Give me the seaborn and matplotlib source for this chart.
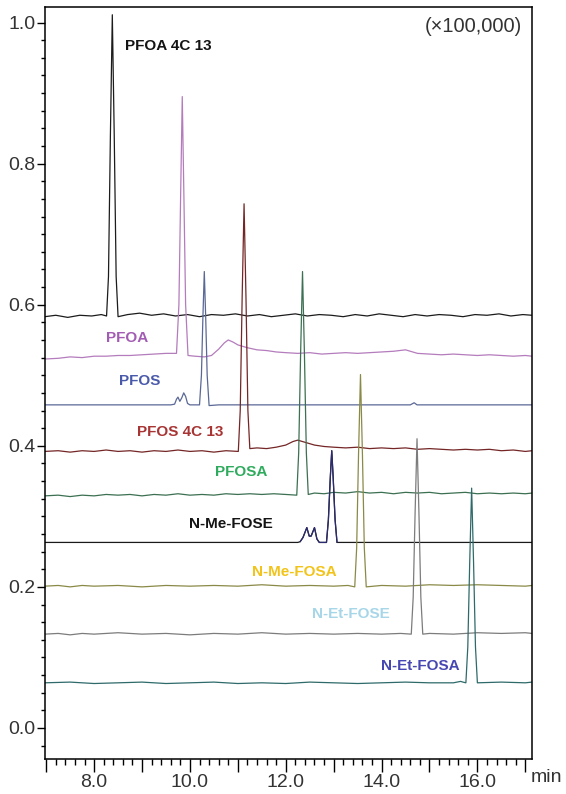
import pandas as pd
import matplotlib
matplotlib.use("Agg")
import matplotlib.pyplot as plt
from matplotlib.ticker import MultipleLocator, FuncFormatter
import seaborn as sns

# chromatogram traces, (retention time [min], intensity [x100,000])
pfoa_4c13 = [(6.97, 0.583), (7.20, 0.585), (7.45, 0.582), (7.70, 0.585), (7.95, 0.584), (8.15, 0.586),
             (8.26, 0.584), (8.30, 0.640), (8.34, 0.840), (8.38, 1.011), (8.42, 0.840), (8.46, 0.640),
             (8.50, 0.583), (8.70, 0.586), (8.95, 0.588), (9.20, 0.585), (9.45, 0.587), (9.70, 0.584),
             (9.95, 0.586), (10.20, 0.583), (10.45, 0.586), (10.70, 0.585), (10.95, 0.587), (11.20, 0.584),
             (11.45, 0.586), (11.70, 0.583), (11.95, 0.585), (12.20, 0.587), (12.45, 0.584), (12.70, 0.586),
             (12.95, 0.585), (13.20, 0.583), (13.45, 0.586), (13.70, 0.584), (13.95, 0.587), (14.20, 0.585),
             (14.45, 0.583), (14.70, 0.586), (14.95, 0.584), (15.20, 0.586), (15.45, 0.585), (15.70, 0.583),
             (15.95, 0.586), (16.20, 0.585), (16.45, 0.587), (16.70, 0.584), (16.95, 0.586), (17.14, 0.585)]
pfoa = [(6.97, 0.523), (7.25, 0.524), (7.50, 0.526), (7.75, 0.525), (8.00, 0.527), (8.25, 0.527),
        (8.50, 0.528), (8.75, 0.528), (9.00, 0.529), (9.25, 0.530), (9.50, 0.531), (9.72, 0.531),
        (9.77, 0.600), (9.805, 0.750), (9.84, 0.895), (9.875, 0.750), (9.91, 0.600), (9.96, 0.528),
        (10.10, 0.527), (10.30, 0.526), (10.45, 0.528), (10.60, 0.537), (10.72, 0.546), (10.80, 0.550),
        (10.90, 0.547), (11.00, 0.543), (11.20, 0.539), (11.40, 0.536), (11.60, 0.535), (11.80, 0.533),
        (12.00, 0.532), (12.25, 0.531), (12.50, 0.532), (12.75, 0.530), (13.00, 0.531), (13.25, 0.532),
        (13.50, 0.531), (13.75, 0.532), (14.00, 0.533), (14.25, 0.534), (14.50, 0.536), (14.75, 0.531),
        (15.00, 0.530), (15.25, 0.529), (15.50, 0.530), (15.75, 0.529), (16.00, 0.528), (16.25, 0.529),
        (16.50, 0.528), (16.75, 0.527), (17.00, 0.528), (17.14, 0.527)]
pfos = [(6.97, 0.458), (8.00, 0.458), (9.00, 0.458), (9.60, 0.458), (9.68, 0.459), (9.72, 0.466),
        (9.75, 0.469), (9.79, 0.463), (9.83, 0.468), (9.87, 0.475), (9.91, 0.470), (9.95, 0.460),
        (10.00, 0.458), (10.20, 0.458), (10.24, 0.500), (10.27, 0.580), (10.30, 0.647), (10.33, 0.580),
        (10.36, 0.500), (10.40, 0.457), (10.60, 0.458), (11.50, 0.458), (12.50, 0.458), (13.50, 0.458),
        (14.60, 0.458), (14.68, 0.461), (14.74, 0.458), (15.50, 0.458), (16.50, 0.458), (17.14, 0.458)]
pfos_4c13 = [(6.97, 0.392), (7.25, 0.393), (7.50, 0.391), (7.75, 0.393), (8.00, 0.392), (8.25, 0.394),
             (8.50, 0.392), (8.75, 0.393), (9.00, 0.391), (9.25, 0.393), (9.50, 0.392), (9.75, 0.394),
             (10.00, 0.392), (10.25, 0.393), (10.50, 0.391), (10.75, 0.393), (11.01, 0.392), (11.05, 0.450),
             (11.09, 0.610), (11.13, 0.743), (11.17, 0.610), (11.21, 0.450), (11.25, 0.396), (11.40, 0.397),
             (11.60, 0.396), (11.80, 0.398), (12.00, 0.401), (12.15, 0.406), (12.25, 0.408), (12.40, 0.405),
             (12.60, 0.401), (12.80, 0.399), (13.00, 0.398), (13.25, 0.397), (13.50, 0.398), (13.75, 0.396),
             (14.00, 0.397), (14.25, 0.396), (14.50, 0.397), (14.75, 0.395), (15.00, 0.396), (15.25, 0.395),
             (15.50, 0.394), (15.75, 0.395), (16.00, 0.394), (16.25, 0.395), (16.50, 0.393), (16.75, 0.394),
             (17.00, 0.392), (17.14, 0.393)]
pfosa = [(6.97, 0.329), (7.25, 0.330), (7.50, 0.328), (7.75, 0.330), (8.00, 0.329), (8.25, 0.331),
         (8.50, 0.330), (8.75, 0.331), (9.00, 0.329), (9.25, 0.331), (9.50, 0.330), (9.75, 0.332),
         (10.00, 0.330), (10.25, 0.331), (10.50, 0.330), (10.75, 0.332), (11.00, 0.331), (11.25, 0.332),
         (11.50, 0.331), (11.75, 0.332), (12.00, 0.331), (12.23, 0.330), (12.27, 0.390), (12.31, 0.530),
         (12.35, 0.647), (12.39, 0.530), (12.43, 0.390), (12.47, 0.331), (12.60, 0.333), (12.80, 0.332),
         (13.00, 0.334), (13.25, 0.333), (13.50, 0.335), (13.75, 0.333), (14.00, 0.334), (14.25, 0.332),
         (14.50, 0.334), (14.75, 0.333), (15.00, 0.334), (15.25, 0.332), (15.50, 0.333), (15.75, 0.334),
         (16.00, 0.332), (16.25, 0.333), (16.50, 0.332), (16.75, 0.333), (17.00, 0.332), (17.14, 0.333)]
n_me_fose = [(6.97, 0.263), (8.00, 0.263), (9.00, 0.263), (10.00, 0.263), (11.00, 0.263), (12.00, 0.263),
             (12.25, 0.263), (12.30, 0.264), (12.36, 0.270), (12.44, 0.284), (12.49, 0.272), (12.53, 0.272),
             (12.60, 0.284), (12.65, 0.268), (12.70, 0.263), (12.85, 0.263), (12.89, 0.295), (12.93, 0.355),
             (12.96, 0.393), (12.99, 0.355), (13.03, 0.295), (13.07, 0.263), (14.00, 0.263), (15.00, 0.263),
             (16.00, 0.263), (17.14, 0.263)]
n_me_fosa = [(6.97, 0.201), (7.25, 0.202), (7.50, 0.200), (7.75, 0.202), (8.00, 0.201), (8.50, 0.202),
             (9.00, 0.200), (9.50, 0.202), (10.00, 0.201), (10.50, 0.202), (11.00, 0.201), (11.50, 0.203),
             (12.00, 0.201), (12.50, 0.202), (13.00, 0.201), (13.30, 0.202), (13.44, 0.200), (13.48, 0.255),
             (13.52, 0.390), (13.56, 0.501), (13.60, 0.390), (13.64, 0.255), (13.68, 0.200), (14.00, 0.202),
             (14.50, 0.201), (15.00, 0.203), (15.50, 0.202), (16.00, 0.203), (16.50, 0.202), (17.00, 0.201),
             (17.14, 0.202)]
n_et_fose = [(6.97, 0.133), (7.25, 0.134), (7.50, 0.132), (7.75, 0.134), (8.00, 0.133), (8.50, 0.135),
             (9.00, 0.133), (9.50, 0.134), (10.00, 0.132), (10.50, 0.134), (11.00, 0.133), (11.50, 0.135),
             (12.00, 0.133), (12.50, 0.134), (13.00, 0.133), (13.50, 0.134), (14.00, 0.133), (14.40, 0.134),
             (14.62, 0.133), (14.66, 0.185), (14.70, 0.305), (14.74, 0.410), (14.78, 0.305), (14.82, 0.185),
             (14.86, 0.133), (15.00, 0.134), (15.50, 0.133), (16.00, 0.135), (16.50, 0.134), (17.00, 0.135),
             (17.14, 0.134)]
n_et_fosa = [(6.97, 0.064), (7.50, 0.065), (8.00, 0.063), (8.50, 0.064), (9.00, 0.065), (9.50, 0.063),
             (10.00, 0.064), (10.50, 0.065), (11.00, 0.063), (11.50, 0.064), (12.00, 0.063), (12.50, 0.065),
             (13.00, 0.064), (13.50, 0.063), (14.00, 0.064), (14.50, 0.065), (15.00, 0.064), (15.50, 0.064),
             (15.65, 0.066), (15.70, 0.065), (15.76, 0.064), (15.80, 0.115), (15.84, 0.235), (15.88, 0.340),
             (15.92, 0.235), (15.96, 0.115), (16.00, 0.064), (16.50, 0.065), (17.00, 0.064), (17.14, 0.065)]

compounds = ['PFOA 4C 13', 'PFOA', 'PFOS', 'PFOS 4C 13', 'PFOSA',
             'N-Me-FOSE', 'N-Me-FOSA', 'N-Et-FOSE', 'N-Et-FOSA']
traces = [pfoa_4c13, pfoa, pfos, pfos_4c13, pfosa, n_me_fose, n_me_fosa, n_et_fose, n_et_fosa]

line_colors = ['#1c1c1c', '#b47cbc', '#5a6896', '#742626', '#3c7052',
               '#1a1a1a', '#8a8a48', '#7c7c7c', '#2f6a6a']
label_colors = ['#141414', '#a35cb3', '#4a5aab', '#a83434', '#2fab5d',
                '#141414', '#f2c318', '#a6d6e8', '#4747b3']
# label anchor (time, intensity) and alignment
label_pos = [(8.65, 0.966, 'left'), (8.69, 0.553, 'center'), (8.96, 0.492, 'center'),
             (9.80, 0.420, 'center'), (11.06, 0.363, 'center'), (10.85, 0.289, 'center'),
             (12.17, 0.221, 'center'), (13.36, 0.162, 'center'), (14.81, 0.088, 'center')]

rows = []
for name, tr in zip(compounds, traces):
    for t, v in tr:
        rows.append({'compound': name, 'time': t, 'intensity': v})
df = pd.DataFrame(rows)

sns.set_theme(style='ticks')
plt.rcParams['font.family'] = ['Liberation Sans', 'DejaVu Sans']

fig = plt.figure(figsize=(5.66, 7.94), dpi=100)
ax = fig.add_axes([45 / 566, 1 - 759 / 794, 487 / 566, 752.5 / 794])

sns.lineplot(data=df, x='time', y='intensity', hue='compound', hue_order=compounds,
             palette=dict(zip(compounds, line_colors)), estimator=None, sort=False,
             legend=False, lw=0.9, ax=ax)

# N-Me-FOSE peaks are drawn in navy
sub = df[(df.compound == 'N-Me-FOSE') & (df.time >= 12.30) & (df.time <= 13.07)]
sns.lineplot(data=sub, x='time', y='intensity', color='#2b2b72', estimator=None,
             sort=False, lw=0.9, ax=ax)

for name, col, (x, y, ha) in zip(compounds, label_colors, label_pos):
    ax.text(x, y, name, color=col, fontsize=11, fontweight='bold', ha=ha, va='center')

ax.set_xlim(6.975, 17.14)
ax.set_ylim(-0.044, 1.0227)
ax.set_xlabel('')
ax.set_ylabel('')

ax.xaxis.set_major_locator(MultipleLocator(1.0))
ax.xaxis.set_minor_locator(MultipleLocator(0.2))
ax.xaxis.set_major_formatter(FuncFormatter(lambda v, p: f'{v:.1f}' if round(v) % 2 == 0 else ''))
ax.yaxis.set_major_locator(MultipleLocator(0.2))
ax.yaxis.set_minor_locator(MultipleLocator(0.025))
ax.yaxis.set_major_formatter(FuncFormatter(lambda v, p: f'{v:.1f}'))

ax.tick_params(axis='x', which='major', length=9, width=1.0, pad=1.5, labelsize=14,
               labelcolor='#333333', color='black', direction='out')
ax.tick_params(axis='x', which='minor', length=4.5, width=1.0, color='black', direction='out')
ax.tick_params(axis='y', which='major', length=5.5, width=1.0, pad=1.5, labelsize=14,
               labelcolor='#333333', color='black', direction='out')
ax.tick_params(axis='y', which='minor', length=3, width=1.0, color='black', direction='out')

for s in ax.spines.values():
    s.set_visible(True)
    s.set_color('black')
    s.set_linewidth(1.1)

ax.text(0.9795, 0.973, '(\u00d7100,000)', transform=ax.transAxes, ha='right', va='center',
        fontsize=14.5, color='#333333')
fig.text(546 / 566, 1 - 777 / 794, 'min', ha='center', va='center', fontsize=14, color='#333333')

fig.savefig('out.png', dpi=100, facecolor='white')
